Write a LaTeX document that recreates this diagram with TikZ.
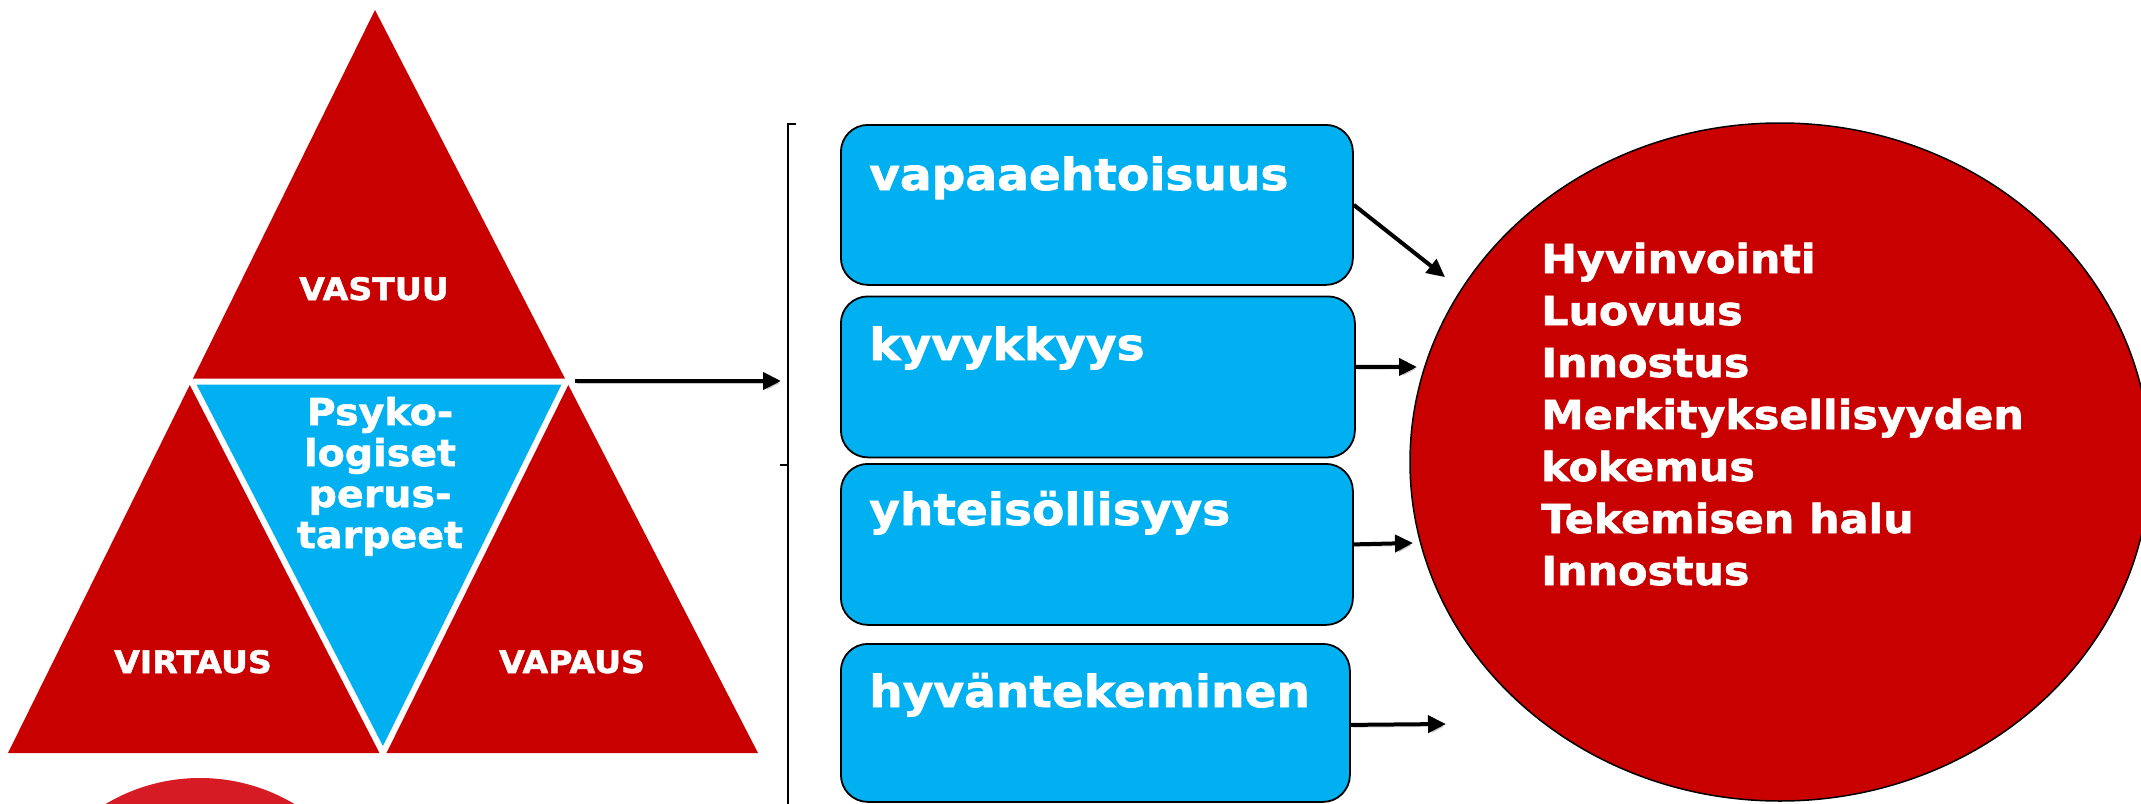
\documentclass[tikz,border=0pt]{standalone}
\usepackage{fontspec}
\setmainfont{DejaVu Sans}[BoldFont={DejaVu Sans Bold},FakeStretch=1.07,
  BoldFeatures={FakeBold=1.6}]
\usetikzlibrary{shapes.geometric,arrows.meta}
\definecolor{tri}{RGB}{200,0,0}
\definecolor{sky}{RGB}{0,176,240}
\definecolor{spot}{RGB}{214,27,36}

\begin{document}
\begin{tikzpicture}[x=1pt,y=-1pt,
  big/.style={text=white,font=\bfseries\fontsize{44}{52}\selectfont,inner sep=0pt},
  list/.style={text=white,font=\bfseries\fontsize{40}{52}\selectfont,inner sep=0pt},
  mid/.style={text=white,font=\bfseries\fontsize{37}{41}\selectfont,inner sep=0pt},
  small/.style={text=white,font=\bfseries\fontsize{31}{36}\selectfont,inner sep=0pt},
  box/.style={draw=black,line width=1.8pt,fill=sky,rounded corners=27pt,
    anchor=north west,inner sep=0pt},
  arr/.style={line width=4pt,-{Triangle[length=18pt,width=17pt]},
    preaction={draw=black!22,transform canvas={shift={(2pt,-2.5pt)}}}},
]
\useasboundingbox (0,0) rectangle (2141,803);
\clip (0,0) rectangle (2141,803);

% partly visible disc in the lower left corner
\fill[spot] (200,962) circle[radius=184];

% big red triangle split by the inverted blue one
\coordinate (apex) at (375,10);
\coordinate (baseL) at (8,753);
\coordinate (baseR) at (758,753);
\coordinate (midL) at (191.5,381.5);
\coordinate (midR) at (566.5,381.5);
\coordinate (midB) at (383,753);
\fill[tri] (apex) -- (baseR) -- (baseL) -- cycle;
\filldraw[fill=sky,draw=white,line width=6pt,line join=miter] (midL) -- (midR) -- (midB) -- cycle;

\node[small,anchor=base] (vastuu) at (374,300) {VASTUU};
\node[small,anchor=base] (virtaus) at (193,673) {VIRTAUS};
\node[small,anchor=base] (vapaus) at (572,673) {VAPAUS};
\node[mid,anchor=base] (p1) at (380,425) {Psyko-};
\node[mid,anchor=base] (p2) at (380,466) {logiset};
\node[mid,anchor=base] (p3) at (380,507) {perus-};
\node[mid,anchor=base] (p4) at (380,548) {tarpeet};

% brace
\coordinate (brTop) at (788,124);
\coordinate (brMid) at (788,465);
\coordinate (brBot) at (788,810);
\draw[line width=1.8pt] ([xshift=8pt]brTop) -- (brTop) -- (brBot);
\draw[line width=1.8pt] ([xshift=-8pt]brMid) -- (brMid);

% arrow from the triangle to the brace
\coordinate (s0) at (575,381);
\coordinate (e0) at (781,381);
\draw[arr] (s0) -- (e0);

% four boxes
\node[box,minimum width=512pt,minimum height=160pt] (b1) at (840,124) {};
\node[box,minimum width=514pt,minimum height=161pt] (b2) at (840,295.5) {};
\node[box,minimum width=512pt,minimum height=161pt] (b3) at (840,463) {};
\node[box,minimum width=509pt,minimum height=158pt] (b4) at (840,643) {};
\node[big,anchor=base west] (l1) at (869,190) {vapaaehtoisuus};
\node[big,anchor=base west] (l2) at (869,360) {kyvykkyys};
\node[big,anchor=base west] (l3) at (869,525) {yhteisöllisyys};
\node[big,anchor=base west] (l4) at (869,707) {hyväntekeminen};

% outcome ellipse
\node[ellipse,draw=black,line width=1.5pt,fill=tri,minimum width=740pt,
  minimum height=678pt,inner sep=0pt] (out) at (1780,462) {};
\node[list,anchor=base west] (c1) at (1541,273) {Hyvinvointi};
\node[list,anchor=base west] (c2) at (1541,325) {Luovuus};
\node[list,anchor=base west] (c3) at (1541,377) {Innostus};
\node[list,anchor=base west] (c4) at (1541,429) {Merkityksellisyyden};
\node[list,anchor=base west] (c5) at (1541,481) {kokemus};
\node[list,anchor=base west] (c6) at (1541,533) {Tekemisen halu};
\node[list,anchor=base west] (c7) at (1541,585) {Innostus};

% arrows from the boxes towards the ellipse
\coordinate (t1) at (1445,277);
\coordinate (t2) at (1417,367);
\coordinate (t3) at (1413,543);
\coordinate (t4) at (1446,724);
\draw[arr] (b1.east) -- (t1);
\draw[arr] ([yshift=10pt]b2.east) -- (t2);
\draw[arr] (b3.east) -- (t3);
\draw[arr] ([yshift=-2pt]b4.east) -- (t4);
\end{tikzpicture}
\end{document}
